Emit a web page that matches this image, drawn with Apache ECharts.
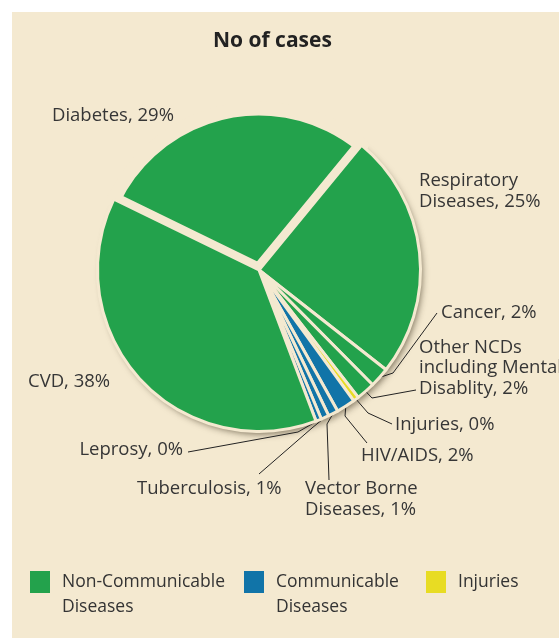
<!DOCTYPE html>
<html>
<head>
<meta charset="utf-8">
<script src="https://cdn.jsdelivr.net/npm/echarts@6/dist/echarts.min.js"></script>
<style>
  html, body { margin: 0; padding: 0; background: #fff; }
  #chart {
    position: absolute; left: 0; top: 0; width: 559px; height: 638px;
    background: linear-gradient(#f4e9d0, #f4e9d0) 12px 12px / 547px 626px no-repeat, #fff;
  }
</style>
</head>
<body>
<div id="chart"></div>
<script>
// Share of cases by condition (%), in clockwise order starting at Diabetes
const conditions = ['Diabetes', 'Respiratory Diseases', 'Cancer',
  'Other NCDs including Mental Disablity', 'Injuries', 'HIV/AIDS',
  'Vector Borne Diseases', 'Tuberculosis', 'Leprosy', 'CVD'];
const labelNames = ['Diabetes', 'Respiratory\nDiseases', 'Cancer',
  'Other NCDs\nincluding Mental\nDisablity', 'Injuries', 'HIV/AIDS',
  'Vector Borne\nDiseases', 'Tuberculosis', 'Leprosy', 'CVD'];
const shares = [28.9, 24.8, 2.0, 1.9, 0.3, 1.9, 1.0, 0.8, 0.2, 38.2];
const groupOf = [0, 0, 0, 0, 2, 1, 1, 1, 1, 0];
const groupNames = ['Non-Communicable\nDiseases', 'Communicable\nDiseases', 'Injuries'];

const BG = '#f4e9d0';
const groupColors = ['#23a24c', '#1174a8', '#e8dc23'];
const FONT = 'Open Sans';
const CENTER = [259, 270];
const START = 154;

// Where each label sits, and the elbow/end of its leader line
const labelPlacement = [
  { x: 52, y: 116 },
  { x: 419, y: 191 },
  { x: 441, y: 313, bend: [393, 373], end: [437, 313] },
  { x: 419, y: 368, bend: [372, 398], end: [416, 390] },
  { x: 395, y: 425, bend: [368, 413], end: [392, 424] },
  { x: 361, y: 456, bend: [345, 416], end: [367, 443] },
  { x: 305, y: 499, bend: [327, 424], end: [329, 480] },
  { x: 137, y: 489, bend: [312, 428], end: [259, 474] },
  { x: 183, y: 450, align: 'right', bend: [298, 432], end: [188, 452] },
  { x: 28, y: 382 }
];
// Diabetes is set apart from its neighbours by a wider gap
const gapWidth = [14, 3, 3, 3, 3, 3, 3, 3, 3, 3];

const pieData = conditions.map((name, i) => ({
  name: name,
  value: shares[i],
  itemStyle: { color: groupColors[groupOf[i]], borderWidth: gapWidth[i] },
  labelLine: { show: !!labelPlacement[i].bend }
}));

// Same slices in the background colour, only to cast the drop shadow
const shadowData = conditions.map((name, i) => ({ name: name, value: shares[i] }));

const chart = echarts.init(document.getElementById('chart'), null, { renderer: 'canvas' });

const legendBase = {
  orient: 'horizontal', padding: 0, icon: 'rect', itemWidth: 20, itemHeight: 22,
  selectedMode: false
};

chart.setOption({
  backgroundColor: 'transparent',
  animation: false,
  title: {
    text: 'No of cases', left: 213, top: 31, padding: 0,
    textStyle: { fontFamily: FONT, fontWeight: 'bold', fontSize: 21, color: '#222' }
  },
  grid: { show: false, left: 0, top: 0, width: 1, height: 1 },
  xAxis: { show: false, type: 'value' },
  yAxis: { show: false, type: 'value' },
  legend: groupNames.map((g, k) => Object.assign({}, legendBase, {
    data: [g],
    left: [30, 244, 426][k],
    top: k < 2 ? 544.5 : 569.5,
    // an empty leading line keeps the first text line level with the swatch
    formatter: name => (name.indexOf('\n') >= 0 ? '\n' + name : name),
    textStyle: {
      fontFamily: FONT, fontSize: 17.5, color: '#333', lineHeight: 25,
      padding: [0, 0, 0, 7]
    }
  })),
  series: groupNames.map((g, k) => ({
    type: 'line', name: g, data: [], color: groupColors[k], silent: true
  })).concat([{
    type: 'pie',
    z: 1,
    center: CENTER,
    radius: 160,
    startAngle: START,
    minAngle: 2,
    silent: true,
    emphasis: { disabled: true },
    label: { show: false },
    labelLine: { show: false },
    itemStyle: {
      color: BG, borderWidth: 0,
      shadowBlur: 7, shadowOffsetX: 3, shadowOffsetY: 4,
      shadowColor: 'rgba(50,40,20,0.65)'
    },
    data: shadowData
  }, {
    type: 'pie',
    z: 2,
    center: CENTER,
    radius: 161.5,
    startAngle: START,
    clockwise: true,
    minAngle: 2,
    avoidLabelOverlap: false,
    silent: true,
    emphasis: { disabled: true },
    itemStyle: { borderColor: BG },
    label: {
      show: true, position: 'outside',
      fontFamily: FONT, fontSize: 18.5, lineHeight: 20.5, color: '#363636',
      formatter: p => labelNames[p.dataIndex] + ', ' + Math.round(p.value) + '%'
    },
    labelLine: { show: true, lineStyle: { color: '#222', width: 1 } },
    labelLayout: function (params) {
      const p = labelPlacement[params.dataIndex];
      const out = { x: p.x, y: p.y, align: p.align || 'left', verticalAlign: 'middle' };
      if (p.bend && params.labelLinePoints) {
        out.labelLinePoints = [params.labelLinePoints[0], p.bend, p.end];
      }
      return out;
    },
    data: pieData
  }])
});
</script>
</body>
</html>
